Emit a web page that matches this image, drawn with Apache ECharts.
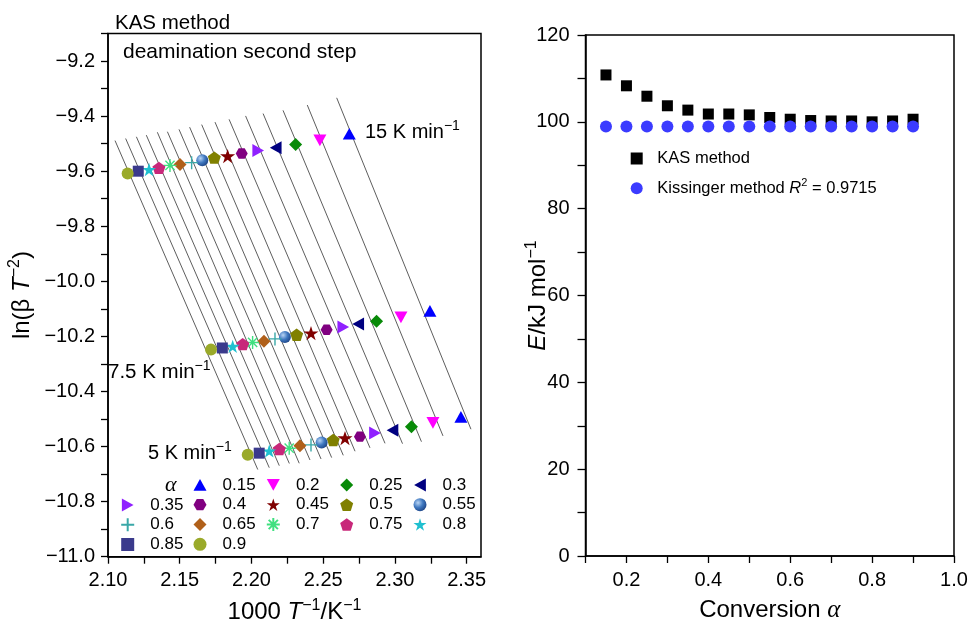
<!DOCTYPE html>
<html><head><meta charset="utf-8">
<script src="https://cdn.jsdelivr.net/npm/echarts@6/dist/echarts.min.js"></script>
<style>html,body{margin:0;padding:0;background:#fff}#c{width:973px;height:623px}</style>
</head><body><div id="c"></div>
<script>
// ---------- data (left panel: KAS plots) ----------
const alphas = ['0.15','0.2','0.25','0.3','0.35','0.4','0.45','0.5','0.55','0.6','0.65','0.7','0.75','0.8','0.85','0.9'];
// 15 K/min
const x15 = [2.2682,2.2477,2.2308,2.2169,2.2047,2.1932,2.1834,2.1741,2.1657,2.1583,2.1502,2.1432,2.1355,2.1286,2.1211,2.1137];
const y15 = [-9.464,-9.488,-9.503,-9.515,-9.525,-9.536,-9.545,-9.551,-9.560,-9.569,-9.576,-9.579,-9.588,-9.594,-9.600,-9.608];
// 7.5 K/min
const x75 = [2.3244,2.3042,2.2872,2.2744,2.2640,2.2524,2.2415,2.2315,2.2233,2.2164,2.2087,2.2008,2.1939,2.1869,2.1797,2.1718];
const y75 = [-10.107,-10.131,-10.145,-10.155,-10.166,-10.176,-10.188,-10.194,-10.202,-10.209,-10.218,-10.222,-10.228,-10.236,-10.242,-10.248];
// 5 K/min
const x5 = [2.3460,2.3265,2.3115,2.2983,2.2861,2.2756,2.2652,2.2570,2.2489,2.2415,2.2338,2.2263,2.2194,2.2124,2.2054,2.1974];
const y5 = [-10.492,-10.514,-10.528,-10.541,-10.551,-10.564,-10.569,-10.576,-10.585,-10.594,-10.597,-10.606,-10.609,-10.616,-10.624,-10.630];

// tick values (left panel)
const leftXTicks = [2.10,2.125,2.15,2.175,2.20,2.225,2.25,2.275,2.30,2.325,2.35];
const leftXLabels = [2.10,2.15,2.20,2.25,2.30,2.35];

// ---------- data (right panel: activation energy) ----------
const convAlpha = [0.15,0.2,0.25,0.3,0.35,0.4,0.45,0.5,0.55,0.6,0.65,0.7,0.75,0.8,0.85,0.9];
const kasE = [110.8,108.3,105.9,103.7,102.7,101.8,101.8,101.6,101.0,100.6,100.3,100.2,100.2,100.0,100.2,100.6];
const kissingerE = [98.9,98.9,98.9,98.9,98.9,98.9,98.9,98.9,98.9,98.9,98.9,98.9,98.9,98.9,98.9,98.9];

// ---------- styles ----------
const FONT = 'Liberation Sans, Arial, Helvetica, sans-serif';
const P = {
  triUp: 'path://M0,-1 L1,0.8 L-1,0.8 Z',
  triDown: 'path://M-1,-0.8 L1,-0.8 L0,1 Z',
  triLeft: 'path://M-1,0 L0.8,-1 L0.8,1 Z',
  triRight: 'path://M1,0 L-0.8,-1 L-0.8,1 Z',
  diamond: 'path://M0,-1 L1,0 L0,1 L-1,0 Z',
  square: 'path://M-1,-1 L1,-1 L1,1 L-1,1 Z',
  hexagon: 'path://M-0.5,-0.866 L0.5,-0.866 L1,0 L0.5,0.866 L-0.5,0.866 L-1,0 Z',
  star: 'path://M0,-1 L0.2245,-0.309 L0.951,-0.309 L0.363,0.118 L0.588,0.809 L0,0.382 L-0.588,0.809 L-0.363,0.118 L-0.951,-0.309 L-0.2245,-0.309 Z',
  pentagon: 'path://M0,-1 L0.951,-0.309 L0.588,0.809 L-0.588,0.809 L-0.951,-0.309 Z',
  plus: 'path://M0,-1 L0,1 M-1,0 L1,0',
  asterisk: 'path://M0,-1 L0,1 M-1,0 L1,0 M-0.707,-0.707 L0.707,0.707 M-0.707,0.707 L0.707,-0.707'
};
const sphere = {type:'radial', x:0.35, y:0.35, r:0.75, colorStops:[{offset:0,color:'#b8d4f4'},{offset:0.5,color:'#3f78c0'},{offset:1,color:'#1a3f80'}]};
const markerStyle = {
  '0.15': {symbol:P.triUp, size:13, color:'#0000ff'},
  '0.2':  {symbol:P.triDown, size:13, color:'#ff00ff'},
  '0.25': {symbol:P.diamond, size:13, color:'#088a08'},
  '0.3':  {symbol:P.triLeft, size:13, color:'#000080'},
  '0.35': {symbol:P.triRight, size:13, color:'#9020ff'},
  '0.4':  {symbol:P.hexagon, size:12, color:'#800080'},
  '0.45': {symbol:P.star, size:15, color:'#800000'},
  '0.5':  {symbol:P.pentagon, size:13, color:'#808000'},
  '0.55': {symbol:'circle', size:12, color:sphere},
  '0.6':  {symbol:P.plus, size:13, color:'#3aa8a8', stroke:true},
  '0.65': {symbol:P.diamond, size:13, color:'#b0601a'},
  '0.7':  {symbol:P.asterisk, size:13, color:'#40e080', stroke:true},
  '0.75': {symbol:P.pentagon, size:13, color:'#c8287a'},
  '0.8':  {symbol:P.star, size:14, color:'#20c0d0'},
  '0.85': {symbol:P.square, size:11, color:'#3a3a8c'},
  '0.9':  {symbol:'circle', size:12, color:'#9aaa2a'}
};
const EXT_TOP = 0.0088, EXT_BOT = 0.007;

// ---------- build series ----------
const series = [];
alphas.forEach((a, i) => {
  const xs = [x15[i], x75[i], x5[i]], ys = [y15[i], y75[i], y5[i]];
  const mx = (xs[0]+xs[1]+xs[2])/3, my = (ys[0]+ys[1]+ys[2])/3;
  let sxx = 0, sxy = 0;
  for (let k = 0; k < 3; k++) { sxx += (xs[k]-mx)*(xs[k]-mx); sxy += (xs[k]-mx)*(ys[k]-my); }
  const b = sxy/sxx, c0 = my - b*mx;
  const xa = x15[i] - EXT_TOP, xb = x5[i] + EXT_BOT;
  series.push({
    type:'line', name:'fit'+a, xAxisIndex:0, yAxisIndex:0, silent:true, symbol:'none', z:1,
    lineStyle:{color:'#333', width:0.8}, data:[[xa, c0+b*xa],[xb, c0+b*xb]], animation:false
  });
});
alphas.forEach((a, i) => {
  const m = markerStyle[a];
  const itemStyle = m.stroke ? {color:'rgba(0,0,0,0)', borderColor:m.color, borderWidth:1.4, opacity:1}
                             : {color:m.color, opacity:1};
  series.push({
    type:'scatter', name:a, xAxisIndex:0, yAxisIndex:0, symbol:m.symbol, symbolSize:m.size,
    symbolKeepAspect:true, itemStyle, z:3,
    data:[[x15[i],y15[i]],[x75[i],y75[i]],[x5[i],y5[i]]], animation:false
  });
});
series.push({
  type:'scatter', name:'KAS method', xAxisIndex:1, yAxisIndex:1, symbol:P.square, symbolSize:11,
  symbolKeepAspect:true, itemStyle:{color:'#000', opacity:1}, z:3, data: convAlpha.map((a,i)=>[a,kasE[i]]), animation:false
});
series.push({
  type:'scatter', name:'Kissinger method', xAxisIndex:1, yAxisIndex:1, symbol:'circle', symbolSize:12,
  itemStyle:{color:'#3b3bff', opacity:1}, z:4, data: convAlpha.map((a,i)=>[a,kissingerE[i]]), animation:false
});

// ---------- legends ----------
const colX = [126.7, 200, 272.3, 346.7, 420];
const legendCols = [
  {items:['0.35','0.6','0.85'], col:0, top:495},
  {items:['0.15','0.4','0.65','0.9'], col:1, top:475},
  {items:['0.2','0.45','0.7'], col:2, top:475},
  {items:['0.25','0.5','0.75'], col:3, top:475},
  {items:['0.3','0.55','0.8'], col:4, top:475}
];
const LI = 13;
const legends = legendCols.map(lc => ({
  orient:'vertical', left: colX[lc.col]-LI/2, top: lc.top, data: lc.items,
  itemWidth:LI, itemHeight:LI, itemGap:0, selectedMode:false, padding:0,
  textStyle:{fontSize:17, lineHeight:19.8, fontFamily:FONT, color:'#000', padding:[0,0,0,22.6-LI/2-5]}
}));
legends.push({
  orient:'vertical', left:636.7-6, top:150, data:['KAS method','Kissinger method'],
  itemWidth:12, itemHeight:12, itemGap:10.7, selectedMode:false, padding:0,
  formatter: n => n === 'Kissinger method' ? 'Kissinger method {i|R}{sup|2} = 0.9715' : n,
  textStyle:{fontSize:16.5, lineHeight:16, fontFamily:FONT, color:'#000', padding:[0,0,0,9.6],
    rich:{i:{fontStyle:'italic', fontSize:16.5, fontFamily:FONT}, sup:{fontSize:11, fontFamily:FONT, padding:[0,0,10,0]}}}
});

const tickLabel = {fontSize:20, color:'#000', fontFamily:FONT};
const axisLine = {show:true, lineStyle:{color:'#000', width:1.5}};
const axisTick = {show:true, length:7, lineStyle:{color:'#000', width:1.3}};
const supRich = {i:{fontStyle:'italic', fontSize:24, fontFamily:FONT}, sup:{fontSize:16, fontFamily:FONT, padding:[0,0,14,0]}};
const fmtMinus = v => (v < 0 ? '\u2212' : '') + Math.abs(v).toFixed(1);

const option = {
  backgroundColor:'#fff',
  animation:false,
  grid:[
    {left:108, top:33.5, width:373, height:523.2, show:true, borderColor:'#000', borderWidth:1.5, outerBoundsMode:'none', containLabel:false},
    {left:585.5, top:35, width:368.5, height:521, show:true, borderColor:'#000', borderWidth:1.5, outerBoundsMode:'none', containLabel:false}
  ],
  xAxis:[
    {type:'value', gridIndex:0, min:2.10, max:2.36, interval:0.025,
      axisLine, axisTick:Object.assign({}, axisTick, {customValues:leftXTicks}), splitLine:{show:false},
      axisLabel:Object.assign({}, tickLabel, {margin:14, customValues:leftXLabels, formatter:v=>v.toFixed(2)}),
      name:'1000 {i|T}{sup|\u22121}/K{sup|\u22121}', nameLocation:'middle', nameGap:41, nameMoveOverlap:false,
      nameTextStyle:{fontSize:24, color:'#000', fontFamily:FONT, rich:supRich}},
    {type:'value', gridIndex:1, min:0.1, max:1.0, interval:0.1,
      axisLine, axisTick, splitLine:{show:false},
      axisLabel:Object.assign({}, tickLabel, {margin:14, formatter:v=>{const k=Math.round(v*10); return k%2? '' : v.toFixed(1);}}),
      name:'Conversion {i|\u03b1}', nameLocation:'middle', nameGap:42, nameMoveOverlap:false,
      nameTextStyle:{fontSize:24, color:'#000', fontFamily:FONT, rich:{i:{fontStyle:'italic', fontSize:25, fontFamily:'Liberation Serif, serif'}}}}
  ],
  yAxis:[
    {type:'value', gridIndex:0, min:-11.0, max:-9.1, interval:0.1,
      axisLine, axisTick, splitLine:{show:false},
      axisLabel:Object.assign({}, tickLabel, {margin:13, formatter:v=>{const k=Math.round(v*10); return k%2? '' : fmtMinus(v);}}),
      name:'ln(\u03b2 {i|T}{sup|\u22122})', nameLocation:'middle', nameGap:71, nameRotate:90, nameMoveOverlap:false,
      nameTextStyle:{fontSize:24, color:'#000', fontFamily:FONT, rich:supRich}},
    {type:'value', gridIndex:1, min:0, max:120, interval:10,
      axisLine, axisTick:Object.assign({}, axisTick, {length:8}), splitLine:{show:false},
      axisLabel:Object.assign({}, tickLabel, {margin:16, formatter:v=> v%20 ? '' : String(v)}),
      name:'{i|E}/kJ mol{sup|\u22121}', nameLocation:'middle', nameGap:32, nameRotate:90, nameMoveOverlap:false,
      nameTextStyle:{fontSize:24, color:'#000', fontFamily:FONT, rich:supRich}}
  ],
  legend: legends,
  graphic:[
    {type:'text', left:115, top:13, style:{text:'KAS method', fontSize:20.5, fontFamily:FONT, fill:'#000'}},
    {type:'text', left:123, top:42, style:{text:'deamination second step', fontSize:21, fontFamily:FONT, fill:'#000'}},
    {type:'text', left:365, top:119, style:{text:'15 K min{sup|\u22121}', fontSize:20, fontFamily:FONT, fill:'#000',
      rich:{sup:{fontSize:14, fontFamily:FONT, padding:[0,0,12,0]}}}},
    {type:'text', left:108, top:359, style:{text:'7.5 K min{sup|\u22121}', fontSize:20.5, fontFamily:FONT, fill:'#000',
      rich:{sup:{fontSize:14, fontFamily:FONT, padding:[0,0,12,0]}}}},
    {type:'text', left:148, top:440, style:{text:'5 K min{sup|\u22121}', fontSize:20, fontFamily:FONT, fill:'#000',
      rich:{sup:{fontSize:14, fontFamily:FONT, padding:[0,0,12,0]}}}},
    {type:'text', left:165, top:474, style:{text:'\u03b1', fontSize:22, fontStyle:'italic', fontFamily:'Liberation Serif, serif', fill:'#000'}}
  ],
  series
};
const chart = echarts.init(document.getElementById('c'), null, {renderer:'canvas'});
chart.setOption(option);
</script></body></html>
